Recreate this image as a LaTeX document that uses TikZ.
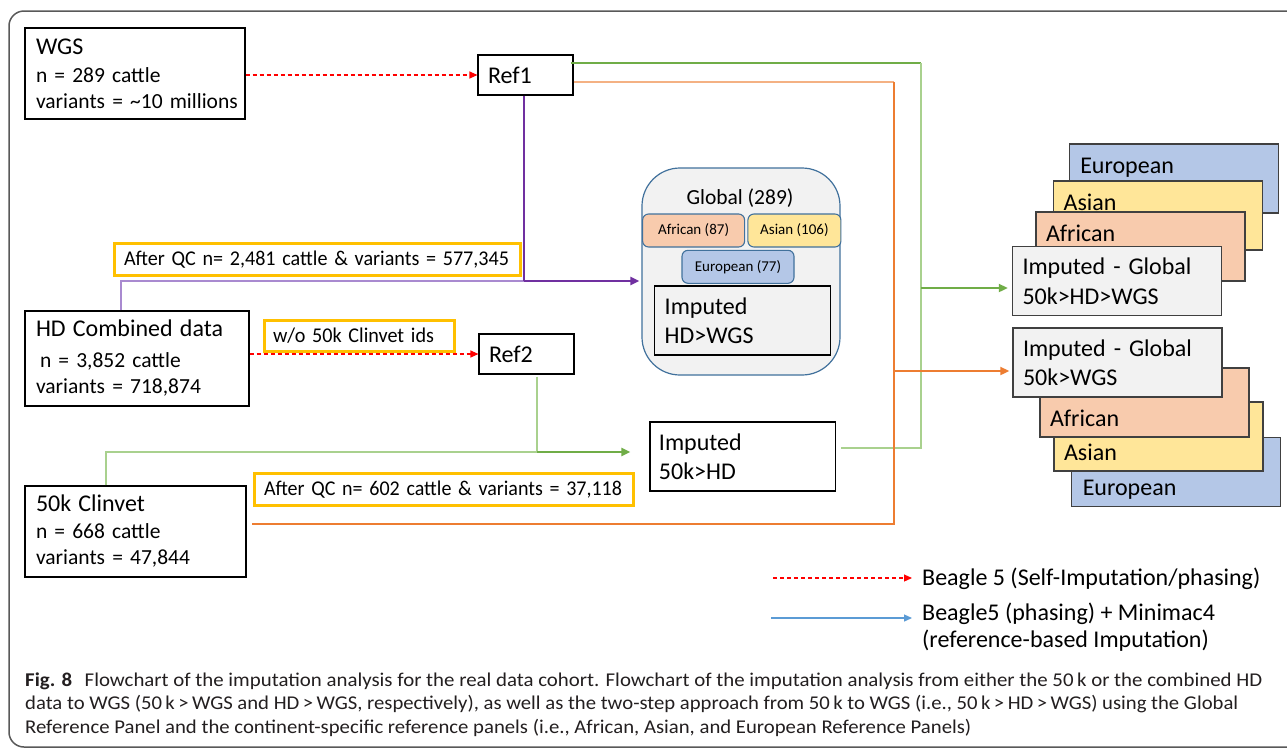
\documentclass[tikz,border=0pt]{standalone}
\usepackage{fontspec}
\setmainfont{Carlito}
\usepackage{graphicx}
\usetikzlibrary{arrows.meta}
\definecolor{qcyel}{HTML}{FFC000}
\definecolor{afr}{HTML}{F8CBAD}
\definecolor{asi}{HTML}{FFE699}
\definecolor{eur}{HTML}{B4C7E7}
\definecolor{impg}{HTML}{F2F2F2}
\definecolor{gblue}{HTML}{41719C}
\definecolor{grnL}{HTML}{A9D18E}
\definecolor{grnD}{HTML}{70AD47}
\definecolor{orgD}{HTML}{ED7D31}
\definecolor{orgL}{HTML}{F4B183}
\definecolor{purp}{HTML}{7030A0}
\definecolor{purpL}{HTML}{A98AD0}
\definecolor{legblue}{HTML}{5B9BD5}
\definecolor{captxt}{HTML}{231F20}
\definecolor{framec}{HTML}{595959}
\newcommand\fbody{\fontsize{21.5}{26}\selectfont}
\newcommand\ftitle{\fontsize{24}{26}\selectfont}
\newcommand\flab{\fontsize{21}{25}\selectfont}
\newcommand\fbig{\fontsize{24}{29.5}\selectfont}
\newcommand\fsmall{\fontsize{15}{18}\selectfont}
\newcommand\fcapt{\fontsize{19.5}{23.5}\selectfont}
\begin{document}
\begin{tikzpicture}[x=1pt,y=-1pt,
  box/.style={draw=black, line width=1.1pt, fill=white, inner ysep=0pt, align=left, font=\fbody},
  qclab/.style={draw=qcyel, line width=3pt, fill=white, inner ysep=0pt, align=left, font=\flab},
  stackbox/.style={draw=black!75, line width=1.4pt, inner ysep=0pt, align=left, font=\fbig,
     minimum width=209pt, minimum height=69pt, text width=189pt, inner xsep=10pt},
  panel/.style={draw=gblue, line width=1.1pt, rounded corners=6pt, minimum height=33pt, inner sep=0pt, font=\fsmall},
  arrtip/.style={-{Triangle[length=9pt,width=8pt]}},
  reddash/.style={draw=red, line width=1.1pt, dash pattern=on 4pt off 3pt, -{Triangle[length=8pt,width=7pt]}},
  thinline/.style={line width=1.3pt},
  thickline/.style={line width=2pt}
]
\useasboundingbox (0,0) rectangle (1287,748);
\clip (0,0) rectangle (1287,748);
\fill[white] (0,0) rectangle (1287,748);
\draw[draw=framec, line width=1.5pt, rounded corners=15pt] (9,11) rectangle (1330,747);

% ---- left boxes
\node[box, minimum width=220pt, minimum height=91pt, text width=198pt, inner xsep=11pt] (wgs) at (135,73.5)
  {\mbox{\ftitle WGS}\\[2pt] \mbox{n = 289 cattle}\\ \mbox{variants = \textasciitilde10 millions}};
\node[box, minimum width=224pt, minimum height=95pt, text width=202pt, inner xsep=11pt] (hd) at (137,358.5)
  {\mbox{\ftitle HD Combined data}\\[5pt] \mbox{\hspace*{4pt}n = 3,852 cattle}\\ \mbox{variants = 718,874}};
\node[box, minimum width=221pt, minimum height=91pt, text width=199pt, inner xsep=11pt] (clin) at (135.5,531.5)
  {\mbox{\ftitle 50k Clinvet}\\[1pt] \mbox{n = 668 cattle}\\ \mbox{variants = 47,844}};

\node[box, font=\ftitle, minimum width=95pt, minimum height=40pt, text width=75pt, inner xsep=10pt] (ref1) at (525.5,75) {Ref1};
\node[box, font=\ftitle, minimum width=95pt, minimum height=40pt, text width=75pt, inner xsep=10pt] (ref2) at (526.5,354) {Ref2};

\node[qclab, minimum width=406pt, minimum height=32pt, text width=387pt, inner xsep=9.5pt] (qc1) at (317.5,259.5)
  {\resizebox{385pt}{\height}{After QC n= 2,481 cattle \& variants = 577,345}};
\node[qclab, minimum width=190pt, minimum height=31pt, text width=173pt, inner xsep=8.5pt] (wo) at (359.5,336)
  {\resizebox{161pt}{\height}{w/o 50k Clinvet ids}};
\node[qclab, minimum width=379pt, minimum height=32pt, text width=360pt, inner xsep=9.5pt] (qc2) at (444,489.5)
  {\resizebox{358pt}{\height}{After QC n= 602 cattle \& variants = 37,118}};

\node[box, font=\fbig, minimum width=185.5pt, minimum height=69pt, text width=167.5pt, inner xsep=9pt] (imp50) at (742.7,456.5)
  {Imputed\\50k>HD};

% ---- global panel
\node[draw=gblue, line width=1.2pt, fill=impg, rounded corners=38pt, minimum width=198pt, minimum height=207pt] (glob) at (741,271.5) {};
\node[font=\fbody, inner sep=0pt] (gtitle) at (740,197.7) {Global (289)};
\node[panel, fill=afr, minimum width=102pt] (gaf) at (693.6,230.5) {African (87)};
\node[panel, fill=asi, minimum width=93pt] (gas) at (794.4,230.5) {Asian (106)};
\node[panel, fill=eur, minimum width=112pt] (geu) at (738,266.8) {European (77)};
\node[box, fill=impg, font=\fbig, minimum width=176pt, minimum height=69pt, text width=156pt, inner xsep=10pt] (ghd) at (742.7,320.5)
  {Imputed\\HD>WGS};

% ---- right stack (top)
\node[stackbox, fill=eur, text height=29pt, text depth=40pt, inner xsep=11pt, text width=187pt] (eu1) at (1173.75,178.5) {European};
\node[stackbox, fill=asi, text height=29pt, text depth=40pt] (as1) at (1158.1,215.5) {Asian};
\node[stackbox, fill=afr, text height=29pt, text depth=40pt] (af1) at (1140.5,246.5) {African};
\node[stackbox, fill=impg] (ig1) at (1117,281.2) {\mbox{Imputed - Global}\\50k>HD>WGS};

% ---- right stack (bottom)
\node[stackbox, fill=eur, text height=58pt, text depth=11pt, inner xsep=11pt, text width=187pt] (eu2) at (1176.25,472) {European};
\node[stackbox, fill=asi, text height=58pt, text depth=11pt] (as2) at (1158.5,436.5) {Asian};
\node[stackbox, fill=afr, text height=58pt, text depth=11pt] (af2) at (1144.5,402.5) {African};
\node[stackbox, fill=impg] (ig2) at (1117.5,362.5) {\mbox{Imputed - Global}\\50k>WGS};

% ---- junction coordinates
\coordinate (pA) at (121,281);
\coordinate (pB) at (524,281);
\coordinate (gA) at (106,452);
\coordinate (gB) at (537,452);
\coordinate (gC) at (921,63);
\coordinate (gD) at (921,288);
\coordinate (gE) at (921,448);
\coordinate (oA) at (894,82);
\coordinate (oB) at (894,371);
\coordinate (oC) at (894,524);

% ---- connectors
\draw[reddash] (wgs.east |- ref1.west) -- (ref1.west);
\draw[reddash] (hd.east |- ref2.west) -- (ref2.west);

\draw[purpL, thinline] (hd.north -| pA) -- (pA) -- (pB);
\draw[purp, thinline] (ref1.south -| pB) -- (pB);
\draw[purp, thickline, arrtip, shorten >=2pt] (pB) -- (glob.west |- pB);

\draw[grnL, thinline] (clin.north -| gA) -- (gA) -- (gB);
\draw[grnL, thinline] ([yshift=-2pt]ref2.south -| gB) -- (gB);
\draw[grnD, thickline, arrtip, shorten >=19pt] (gB) -- (imp50.west |- gB);

\draw[grnD, thinline] ([xshift=-3pt]ref1.east |- gC) -- (gC);
\draw[grnL, thinline] (gC) -- (gE) -- ([xshift=5pt]imp50.east |- gE);
\draw[grnD, thickline, arrtip, shorten >=4pt] (gD) -- (ig1.west |- gD);

\draw[orgL, thinline] (ref1.east |- oA) -- (oA);
\draw[orgD, thinline] (oA) -- (oC) -- ([xshift=5pt]clin.east |- oC);
\draw[orgD, thickline, arrtip, shorten >=3pt] (oB) -- (ig2.west |- oB);

% ---- legend
\node[anchor=base west, inner sep=0pt, font=\ftitle] (leg1) at (922,585) {Beagle 5 (Self-Imputation/phasing)};
\node[anchor=base west, inner sep=0pt, font=\ftitle] (leg2) at (922,620) {Beagle5 (phasing) + Minimac4};
\node[anchor=base west, inner sep=0pt, font=\ftitle] (leg3) at (922,647) {(reference-based Imputation)};
\coordinate (l1a) at (773,578);
\coordinate (l2a) at (771,618);
\draw[reddash] (l1a) -- ([xshift=-10pt]l1a -| leg1.west);
\draw[legblue, line width=1.3pt, -{Triangle[length=8pt,width=7pt]}] (l2a) -- ([xshift=-10pt]l2a -| leg2.west);

% ---- caption
\node[anchor=base west, inner sep=0pt, text=captxt, font=\fcapt] (cap1) at (25,686)
  {\resizebox{1237pt}{\height}{\textbf{Fig. 8}\hspace{0.6em}Flowchart of the imputation analysis for the real data cohort. Flowchart of the imputation analysis from either the 50\,k or the combined HD}};
\node[anchor=base west, inner sep=0pt, text=captxt, font=\fcapt] (cap2) at (25,709.5)
  {\resizebox{1213pt}{\height}{data to WGS (50\,k\,>\,WGS and HD\,>\,WGS, respectively), as well as the two-step approach from 50\,k to WGS (i.e., 50\,k\,>\,HD\,>\,WGS) using the Global}};
\node[anchor=base west, inner sep=0pt, text=captxt, font=\fcapt] (cap3) at (25,733)
  {\resizebox{946pt}{\height}{Reference Panel and the continent-specific reference panels (i.e., African, Asian, and European Reference Panels)}};
\end{tikzpicture}
\end{document}
